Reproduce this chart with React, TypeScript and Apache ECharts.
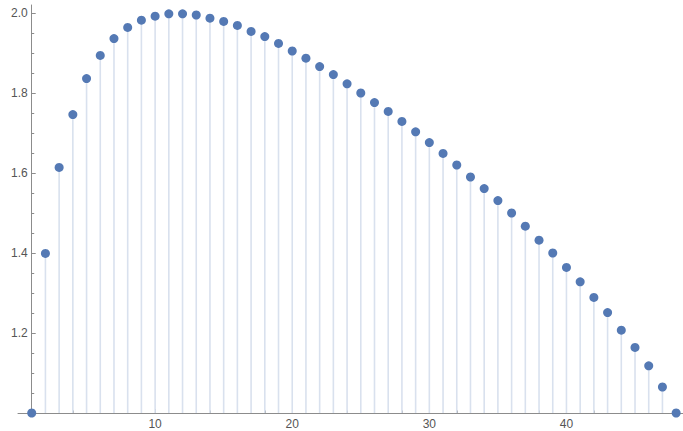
import React, { useEffect, useRef } from "react";
import * as echarts from "echarts";

const xValues = [
  1, 2, 3, 4, 5, 6, 7, 8, 9, 10, 11, 12, 13, 14, 15, 16, 17, 18, 19, 20, 21, 22, 23, 24,
  25, 26, 27, 28, 29, 30, 31, 32, 33, 34, 35, 36, 37, 38, 39, 40, 41, 42, 43, 44, 45, 46, 47, 48,
];
const yValues = [
  1.0, 1.399, 1.614, 1.746, 1.836, 1.894, 1.936, 1.964, 1.982, 1.992, 1.998, 1.998,
  1.995, 1.987, 1.979, 1.969, 1.954, 1.941, 1.924, 1.905, 1.887, 1.866, 1.846, 1.823,
  1.8, 1.776, 1.754, 1.729, 1.703, 1.676, 1.649, 1.62, 1.59, 1.561, 1.531, 1.5,
  1.467, 1.432, 1.4, 1.364, 1.328, 1.289, 1.251, 1.207, 1.164, 1.118, 1.065, 1.0,
];
const xMajorTicks = [10, 20, 30, 40];
const xMinorTicks = [2, 4, 6, 8, 12, 14, 16, 18, 22, 24, 26, 28, 32, 34, 36, 38, 42, 44, 46, 48];
const yMajorTicks = [1.0, 1.2, 1.4, 1.6, 1.8, 2.0];
const yLabelTicks = [1.2, 1.4, 1.6, 1.8, 2.0];
const yMinorTicks = [
  1.05, 1.1, 1.15, 1.25, 1.3, 1.35, 1.45, 1.5, 1.55, 1.65, 1.7, 1.75, 1.85, 1.9, 1.95,
];
const xMin = 0;
const xMax = 48.5;
const yMin = 1.0;
const yMax = 2.02;
const yAxisAt = 1;

export default function App() {
  const ref = useRef<HTMLDivElement>(null);
  useEffect(() => {
    if (!ref.current) return;
    const chart = echarts.init(ref.current, null, { renderer: "svg" });
    const points = xValues.map((x, i) => [x, yValues[i]]);
    const axisColor = "#8c8c8c";
    const labelStyle = {
      color: "#555",
      fontFamily: "Liberation Sans, Arial, sans-serif",
      fontSize: 12,
    };
    const gridLeft = 18;
    const gridRight = 0;
    const plotWidth = 683 - gridLeft - gridRight;
    const yOffset = -((yAxisAt - xMin) / (xMax - xMin)) * plotWidth;
    chart.setOption({
      animation: false,
      backgroundColor: "#fff",
      grid: { left: gridLeft, right: gridRight, top: 5, bottom: 18 },
      xAxis: [
        {
          type: "value",
          min: xMin,
          max: xMax,
          position: "bottom",
          axisLine: { show: true, onZero: false, lineStyle: { color: axisColor, width: 1 } },
          axisTick: { show: true, inside: true, length: 4, customValues: xMajorTicks, lineStyle: { color: axisColor } },
          axisLabel: { show: true, customValues: xMajorTicks, margin: 5, ...labelStyle },
          splitLine: { show: false },
        },
        {
          type: "value",
          min: xMin,
          max: xMax,
          position: "bottom",
          axisLine: { show: false, onZero: false },
          axisTick: { show: true, inside: true, length: 2.5, customValues: xMinorTicks, lineStyle: { color: axisColor } },
          axisLabel: { show: false },
          splitLine: { show: false },
        },
      ],
      yAxis: [
        {
          type: "value",
          min: yMin,
          max: yMax,
          position: "left",
          offset: yOffset,
          axisLine: { show: true, onZero: false, lineStyle: { color: axisColor, width: 1 } },
          axisTick: { show: true, inside: true, length: 4, customValues: yMajorTicks, lineStyle: { color: axisColor } },
          axisLabel: {
            show: true,
            customValues: yLabelTicks,
            margin: 4,
            formatter: (v: number) => v.toFixed(1),
            ...labelStyle,
          },
          splitLine: { show: false },
        },
        {
          type: "value",
          min: yMin,
          max: yMax,
          position: "left",
          offset: yOffset,
          axisLine: { show: false, onZero: false },
          axisTick: { show: true, inside: true, length: 2.5, customValues: yMinorTicks, lineStyle: { color: axisColor } },
          axisLabel: { show: false },
          splitLine: { show: false },
        },
      ],
      series: [
        {
          type: "custom",
          xAxisIndex: 0,
          yAxisIndex: 0,
          clip: false,
          z: 1,
          data: points,
          renderItem: (params: any, api: any) => {
            const x = api.value(0);
            const y = api.value(1);
            const top = api.coord([x, y]);
            const base = api.coord([x, yMin]);
            return {
              type: "line",
              shape: { x1: base[0], y1: base[1], x2: top[0], y2: top[1] },
              style: { stroke: "#d9e1ee", lineWidth: 1.6 },
            };
          },
        },
        {
          type: "scatter",
          xAxisIndex: 0,
          yAxisIndex: 0,
          clip: false,
          z: 3,
          symbol: "circle",
          symbolSize: 9,
          itemStyle: { color: "#5479b4", opacity: 1 },
          data: points,
        },
      ],
    });
    return () => chart.dispose();
  }, []);
  return (
    <div
      ref={ref}
      style={{ position: "fixed", left: 0, top: 0, width: 683, height: 431, background: "#fff" }}
    />
  );
}
